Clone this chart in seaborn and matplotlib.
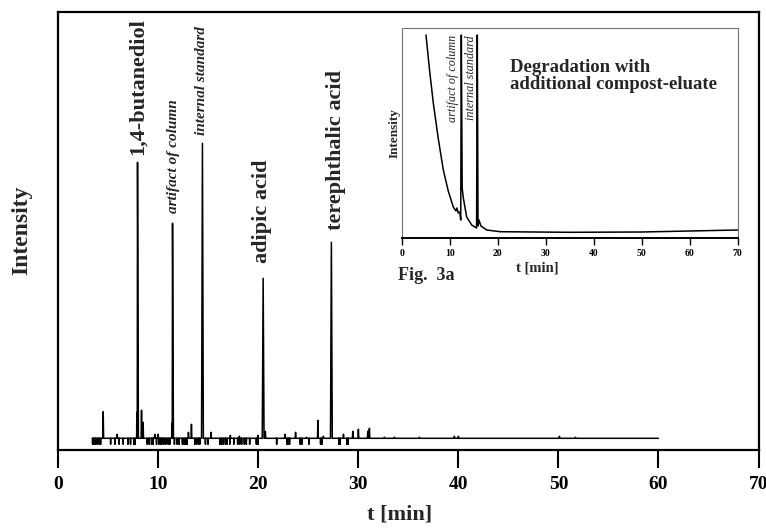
import numpy as np
import pandas as pd
import seaborn as sns
import matplotlib
matplotlib.use("Agg")
import matplotlib.pyplot as plt

# main chromatogram: peaks (retention time [min], height above baseline)
peak_t = [4.49, 5.89, 7.85, 7.92, 8.32, 8.48, 9.65, 9.98, 11.35, 11.42, 13.01, 13.31,
          14.41, 15.27, 17.2, 18.1, 19.96, 20.48, 20.7, 22.65, 23.72, 24.8, 25.95,
          26.5, 27.3, 28.51, 29.44, 30.0, 30.94, 31.1, 32.6, 33.6, 36.1, 39.6, 40.0,
          50.1, 51.7]
peak_h = [26.6, 4, 26, 276, 28, 16, 4, 4, 15, 215, 6, 14,
          295, 6, 3, 2, 3, 160, 7, 4, 6, 1, 18,
          2, 196, 4, 7, 9, 7, 10, 1, 1, 1, 2, 2,
          2, 1]
# event markers drawn below the baseline
marker_t = [3.43, 3.56, 3.73, 3.90, 4.10, 4.23, 5.23, 5.66, 6.09, 6.49, 6.96, 7.22,
            7.56, 7.69, 8.89, 9.09, 9.32, 9.48, 9.82, 10.05, 10.22, 10.35, 10.55,
            10.75, 10.98, 11.15, 11.61, 11.88, 12.08, 12.41, 12.58, 12.74, 12.88,
            13.64, 13.81, 14.01, 14.14, 14.71, 14.97, 16.14, 16.30, 16.47, 16.70,
            16.87, 17.14, 17.54, 17.93, 18.13, 18.33, 18.60, 18.80, 19.13, 19.80,
            19.96, 21.83, 22.86, 22.99, 23.12, 24.19, 24.36, 25.05, 26.22, 26.35,
            28.05, 28.18, 28.85, 28.98]
run_start, run_end = 3.4, 60.0

# labelled peaks
label_t = [7.92, 11.42, 14.41, 20.48, 27.3]
label_h = [276, 215, 295, 160, 196]
label_txt = ["1,4-butanediol", "artifact of column", "internal standard",
             "adipic acid", "terephthalic acid"]

# inset chromatogram (degradation with compost eluate)
inset_t = [5.06, 5.8, 6.58, 7.6, 8.67, 9.7, 10.75, 11.3, 11.5, 11.79, 12.1, 12.3,
           12.42, 12.6, 12.84, 13.54, 14.58, 15.6, 15.75, 15.9, 16.1, 16.5, 17.7,
           20.5, 35.0, 50.0, 60.0, 70.0]
inset_v = [203, 168, 135, 100, 68, 47, 31, 27, 30, 25, 26, 18,
           203, 50, 40, 21, 13, 10, 203, 12, 18, 12, 8,
           6.3, 5.7, 6, 7, 8]

# build trace: thin spikes for peaks, short downward ticks for markers
pts = [(run_start, 0.0), (run_end, 0.0)]
for t, h in zip(peak_t, peak_h):
    w = 0.09 if h > 100 else 0.04
    pts += [(t - w, 0.0), (t, h), (t + w, 0.0)]
for t in marker_t:
    pts += [(t - 0.001, 0.0), (t, -6.0), (t + 0.001, 0.0)]
trace = pd.DataFrame(sorted(pts), columns=["t", "y"])
inset = pd.DataFrame({"t": inset_t, "y": inset_v})

sns.set_theme(style="white")
plt.rcParams["font.family"] = ["Liberation Serif", "DejaVu Serif"]

W, H = 766, 528
fig = plt.figure(figsize=(W / 100, H / 100), dpi=100)
ax = fig.add_axes([58.3 / W, 1 - 450 / H, 700.2 / W, 438.5 / H])

sns.lineplot(data=trace, x="t", y="y", sort=False, estimator=None,
             color="black", linewidth=1.1, ax=ax)
ax.set_xlim(0, 70)
ax.set_ylim(-11.7, 426.8)
ax.set_xticks(range(0, 71, 10))
ax.set_yticks([])
ax.set_xlabel("")
ax.set_ylabel("")
ax.tick_params(axis="x", direction="out", length=13, width=1.5, pad=6,
               labelsize=14, bottom=True, colors="black")
for lab in ax.get_xticklabels():
    lab.set_fontweight("bold")
for s in ax.spines.values():
    s.set_color("black")
    s.set_linewidth(1.6)

styles = [dict(size=16, weight="bold"), dict(size=11, weight="bold", style="italic"),
          dict(size=11, weight="bold", style="italic"), dict(size=16, weight="bold"),
          dict(size=16, weight="bold")]
gaps = [7, 10, 8, 15, 12]
dx = [0.0, 0.1, -0.1, -0.1, 0.45]
for t, h, txt, st, g, d in zip(label_t, label_h, label_txt, styles, gaps, dx):
    ax.text(t + d, h + g, txt, rotation=90, ha="center", va="bottom", **st)

fig.text(400 / W, 1 - 515 / H, "t [min]", ha="center", va="center",
         fontsize=16, fontweight="bold")
fig.text(22 / W, 1 - 230 / H, "Intensity", ha="center", va="center",
         rotation=90, fontsize=17, fontweight="bold")

# inset
ax2 = fig.add_axes([401.7 / W, 1 - 238 / H, 336 / W, 210 / H])
ax2.set_facecolor("white")
sns.lineplot(data=inset, x="t", y="y", sort=False, estimator=None,
             color="black", linewidth=1.1, ax=ax2)
ax2.set_xlim(0, 70)
ax2.set_ylim(0, 210)
ax2.set_xticks(range(0, 71, 10))
ax2.set_yticks([])
ax2.set_xlabel("")
ax2.set_ylabel("")
ax2.tick_params(axis="x", direction="out", length=5, width=1, pad=3,
                labelsize=7, bottom=True, colors="black")
for lab in ax2.get_xticklabels():
    lab.set_fontweight("bold")
for k in ["top", "left", "right"]:
    ax2.spines[k].set_color("0.45")
    ax2.spines[k].set_linewidth(0.8)
ax2.spines["bottom"].set_color("black")
ax2.spines["bottom"].set_linewidth(1.4)

ax2.text(10.7, 203, "artifact of column", rotation=90, ha="center", va="top",
         fontsize=8.7, style="italic")
ax2.text(14.4, 203, "internal standard", rotation=90, ha="center", va="top",
         fontsize=8.7, style="italic")
ax2.text(0.322, 0.85, "Degradation with\nadditional compost-eluate",
         transform=ax2.transAxes, ha="left", va="top", fontsize=13.5,
         fontweight="bold", linespacing=0.95)

fig.text(537 / W, 1 - 268 / H, "t [min]", ha="center", va="center",
         fontsize=10.5, fontweight="bold")
fig.text(395 / W, 1 - 133 / H, "Intensity", ha="center", va="center",
         rotation=90, fontsize=9.5, fontweight="bold")
fig.text(398 / W, 1 - 276 / H, "Fig.  3a", ha="left", va="center",
         fontsize=13, fontweight="bold")

fig.savefig("out.png", dpi=100)
